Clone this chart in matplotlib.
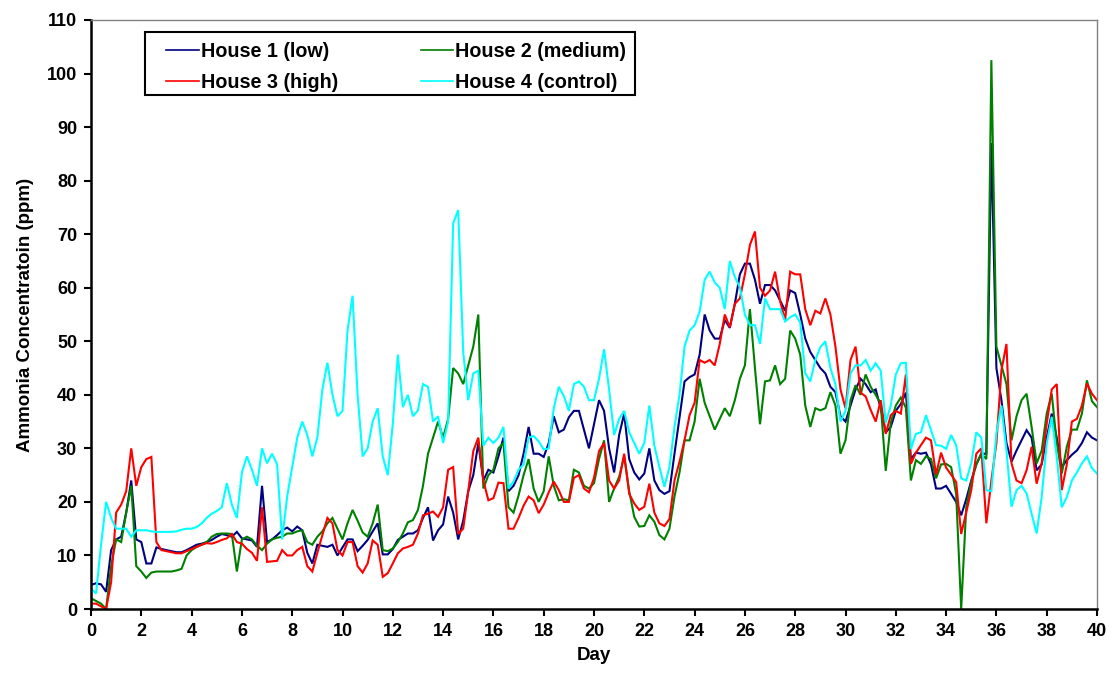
import numpy as np
import matplotlib
matplotlib.use("Agg")
import matplotlib.pyplot as plt
from matplotlib.patches import Rectangle

plt.rcParams['font.family'] = ['Liberation Sans', 'DejaVu Sans']
plt.rcParams['font.weight'] = 'bold'

# sampling grid (days)
days = np.round(np.arange(0, 40.0001, 0.2), 1)

house1_low = [
    4.5, 4.8, 4.6, 3.2, 11, 13, 13.5, 18, 24, 13,
    12.5, 8.5, 8.5, 11.5, 11.2, 11, 10.8, 10.6, 10.6, 11,
    11.5, 12, 12.2, 12.5, 12.9, 13.5, 14, 13.8, 13.5, 14.4,
    13.2, 13, 12.8, 11.6, 23, 12.5, 13, 13.8, 14.7, 15.2,
    14.5, 15.4, 14.7, 10.5, 8.5, 12, 11.8, 11.6, 12, 10,
    11.5, 13, 13, 10.8, 11.8, 12.9, 14.5, 16, 10.2, 10.2,
    11.2, 12.9, 13.5, 14.1, 14.1, 14.7, 17, 19, 12.8, 14.7,
    15.8, 21, 18, 13, 16.5, 22, 25, 31, 24, 26,
    25.5, 28.5, 32, 22, 23, 25, 29, 34, 29, 29,
    28.4, 31, 36, 33, 33.5, 35.8, 37, 37, 33.5, 30,
    34.5, 39, 37, 30, 25.5, 32.5, 36.5, 28, 25.5, 24.2,
    25.3, 30, 24, 22.2, 21.5, 22, 29, 35.8, 42.5, 43.3,
    43.8, 47.5, 55, 52, 50.5, 50.5, 54, 52.5, 57, 62.5,
    64.5, 64.5, 61.5, 57, 60.5, 60.5, 59.5, 57.6, 55.7, 59.5,
    59, 55, 50.5, 48, 46.5, 45, 44, 41.5, 40.5, 36,
    35, 38, 41, 43, 42, 40.5, 41, 37.5, 33, 34,
    37, 38.3, 40.4, 28, 29.2, 29, 29.2, 27, 22.5, 22.5,
    23, 21.5, 20, 17.5, 20.5, 24, 27, 29, 29, 87,
    45, 39, 31, 27.5, 29.6, 31.5, 33.4, 32, 25.9, 27,
    32, 36.5, 32, 26.5, 27.8, 28.8, 29.6, 31, 33, 32,
    31.5,
]

house2_medium = [
    2, 1.5, 1, 0, 8, 13, 12.5, 18, 23, 8,
    7, 5.8, 6.8, 7, 7, 7, 7, 7.2, 7.5, 10,
    11, 11.6, 12, 12.5, 13.5, 14, 14.1, 14.1, 14, 7,
    13, 13.5, 13, 11.8, 11, 12.2, 13, 13.3, 13.5, 14.1,
    14.1, 14.5, 14.7, 12.5, 12, 13.5, 14.5, 16, 17, 15,
    13, 16, 18.5, 16.5, 14.3, 13.5, 16, 19.5, 11, 10.8,
    11.3, 12.5, 14.1, 16.2, 16.6, 18.5, 23, 29, 32, 35,
    32, 35.5, 45, 44, 42, 45.5, 49, 55, 22.5, 25,
    26, 30, 31, 19, 18, 21.2, 25, 28, 22.5, 20,
    22, 28.5, 23, 20.3, 20.5, 20.3, 26, 25.5, 23, 22.5,
    23.5, 28, 31.5, 20, 22.5, 24.7, 28.5, 22, 17.2, 15.4,
    15.5, 17.5, 16.3, 13.8, 13, 15, 21, 25.5, 31.5, 31.5,
    35, 43, 38.5, 36, 33.5, 35.5, 37.5, 36, 39, 43,
    45.5, 56, 45, 34.5, 42.5, 42.7, 45.5, 42, 43, 52,
    50.5, 47.5, 38, 34, 37.5, 37.1, 37.5, 40.5, 38, 29,
    31.5, 39, 41.8, 40, 43.8, 41.5, 40, 38.3, 25.8, 34.8,
    38, 39.5, 37.6, 24, 27.8, 27.1, 28.5, 28, 24.4, 27,
    27.1, 26.5, 21.5, 0, 19, 23.7, 27, 29, 28, 102.5,
    49, 45.5, 42, 31.5, 36, 39, 40.2, 34, 27.2, 29.6,
    36.5, 40.2, 31, 25.3, 30.3, 33.5, 33.5, 36.5, 42.7, 38.8,
    37.7,
]

house3_high = [
    1, 1, 0.5, 0, 5, 18, 19.5, 22, 30, 23,
    26.5, 28, 28.4, 12.5, 11, 10.8, 10.6, 10.4, 10.4, 10.8,
    11.2, 11.6, 12, 12.3, 12.2, 12.5, 12.9, 13.2, 14, 12.5,
    12.2, 11.2, 10.5, 9, 19, 8.8, 8.9, 9, 11, 10,
    10, 11, 11.6, 8, 7, 10.5, 13.8, 17, 16, 11,
    10, 12.5, 12.5, 8, 6.8, 8.5, 12.8, 12, 6, 6.7,
    8.5, 10.4, 11.3, 11.6, 12, 14.1, 17.5, 17.8, 18.2, 17.2,
    19, 26, 26.5, 14, 15, 22, 29.5, 32, 24, 20.3,
    20.7, 23.6, 23.5, 15, 15, 17, 19.3, 21, 20.3, 17.9,
    19.5, 21.8, 23.8, 22.2, 20, 20, 24.5, 25, 22.5, 21.8,
    24.5, 29.5, 31, 24, 22.5, 24, 29, 21.5, 19.7, 18.5,
    19.1, 23.4, 18, 16, 15.5, 16.8, 24, 27.5, 31.5, 36.2,
    38.5, 46.5, 46, 46.5, 45.5, 49.5, 55, 52.6, 57, 58,
    62.5, 68, 70.5, 60, 58.5, 59.5, 63, 57.5, 54, 63,
    62.5, 62.5, 56, 53, 55.7, 55.2, 58, 55, 49, 41,
    37.5, 46.5, 49, 40.4, 39.7, 37.2, 35, 39, 32.7, 36.2,
    37, 36.5, 43.8, 27.1, 29.2, 30.6, 32, 31.5, 25.1, 29.2,
    26.4, 25.1, 23.7, 14, 18, 22.2, 29, 30, 16, 24,
    31, 44.6, 49.5, 27.2, 24, 23.5, 25.9, 30.3, 23.4, 27.2,
    34.6, 41, 42, 22.2, 27, 35, 35.5, 38, 42.1, 40.2,
    39,
]

house4_control = [
    3.8, 2.9, 12, 20, 17, 15, 15, 15, 13.5, 14.7,
    14.7, 14.7, 14.5, 14.4, 14.4, 14.4, 14.4, 14.5, 14.8, 15,
    15, 15.3, 16, 17, 17.8, 18.3, 19, 23.5, 19.5, 17,
    25.5, 28.5, 26, 23, 30, 27.2, 29, 27, 13, 21,
    26.5, 32, 35, 32.5, 28.5, 32, 41, 46, 40, 36,
    37, 52, 58.5, 40, 28.5, 30, 35, 37.5, 28.5, 25,
    34.6, 47.5, 37.7, 40, 36, 37.1, 42, 41.5, 35, 36,
    31, 35, 72, 74.5, 48, 39, 44, 44.5, 30.5, 32,
    31, 32, 34, 22.5, 23.8, 26, 27, 32, 32.3, 31.3,
    29.8, 30, 37.5, 41.5, 39.8, 37, 42, 42.5, 41.5, 39,
    39, 43, 48.5, 41, 32.5, 35.5, 37, 33, 31, 29,
    31, 38, 30.5, 26.5, 22.8, 26.5, 34, 40, 49, 52,
    53, 55.5, 61.5, 63, 61, 60, 56, 65, 62, 60.1,
    55, 53, 53, 49.5, 58, 56, 56, 56, 53.7, 54.5,
    55, 53.5, 44, 42.5, 46.5, 48.9, 50, 45, 42, 35,
    37, 44, 45.5, 45.5, 46.5, 44.5, 45.9, 44.5, 34.8, 38,
    43.8, 45.9, 46, 29.9, 32.7, 33, 36.2, 33.4, 30.6, 30.5,
    29.9, 32.5, 30.6, 24.4, 24, 27.2, 33, 32, 22.2, 22,
    32.8, 38, 29.6, 19.1, 22.2, 23, 21.6, 17.8, 14.1, 20.9,
    30.9, 35.9, 28.4, 19, 20.9, 24, 25.5, 27.2, 28.5, 26.3,
    25.3,
]

series_labels = ['House 1 (low)', 'House 2 (medium)', 'House 3 (high)', 'House 4 (control)']
series_colors = ['#000080', '#008000', '#FF0000', '#00FFFF']
x_ticks = list(range(0, 41, 2))
y_ticks = list(range(0, 111, 10))

W, H = 1120, 684
fig = plt.figure(figsize=(W / 100, H / 100), dpi=100)
ax = fig.add_axes([91 / W, 1 - 609 / H, (1097 - 91) / W, (609 - 20) / H])

all_series = [house1_low, house2_medium, house3_high, house4_control]
handles = []
for vals, lab, col in zip(all_series, series_labels, series_colors):
    ln, = ax.plot(days, vals, color=col, lw=1.5, label=lab, solid_joinstyle='miter')
    handles.append(ln)

ax.set_xlim(0, 40)
ax.set_ylim(0, 110)
ax.set_xticks(x_ticks)
ax.set_yticks(y_ticks)
ax.tick_params(direction='out', length=5, width=1.5, labelsize=13, pad=5)
for lbl in ax.get_xticklabels() + ax.get_yticklabels():
    lbl.set_fontweight('bold')

for side in ['left', 'bottom']:
    ax.spines[side].set_color('black')
    ax.spines[side].set_linewidth(1.8)
for side in ['top', 'right']:
    ax.spines[side].set_color('#808080')
    ax.spines[side].set_linewidth(1.0)

ax.set_xlabel('Day', fontsize=13.5, fontweight='bold', labelpad=5)
ax.set_ylabel('Ammonia Concentratoin (ppm)', fontsize=13.5, fontweight='bold', labelpad=9)

# legend frame drawn as its own box, entries placed inside it
frame = Rectangle((145 / W, 1 - 95 / H), 490 / W, 63 / H,
                  transform=fig.transFigure, facecolor='white',
                  edgecolor='black', linewidth=1.5, zorder=8, clip_on=False)
ax.add_patch(frame)
order = [0, 2, 1, 3]
leg = ax.legend([handles[i] for i in order], [series_labels[i] for i in order],
                ncol=2, loc='upper left',
                bbox_to_anchor=(166 / W, 1 - 42 / H), bbox_transform=fig.transFigure,
                borderaxespad=0, borderpad=0, frameon=False,
                prop={'weight': 'bold', 'size': 14.2},
                handlelength=1.65, handletextpad=0.1, columnspacing=4.2,
                labelspacing=0.62)
leg.set_zorder(9)
for lh in leg.get_lines():
    lh.set_linewidth(1.2)

fig.savefig('out.png', dpi=100)
